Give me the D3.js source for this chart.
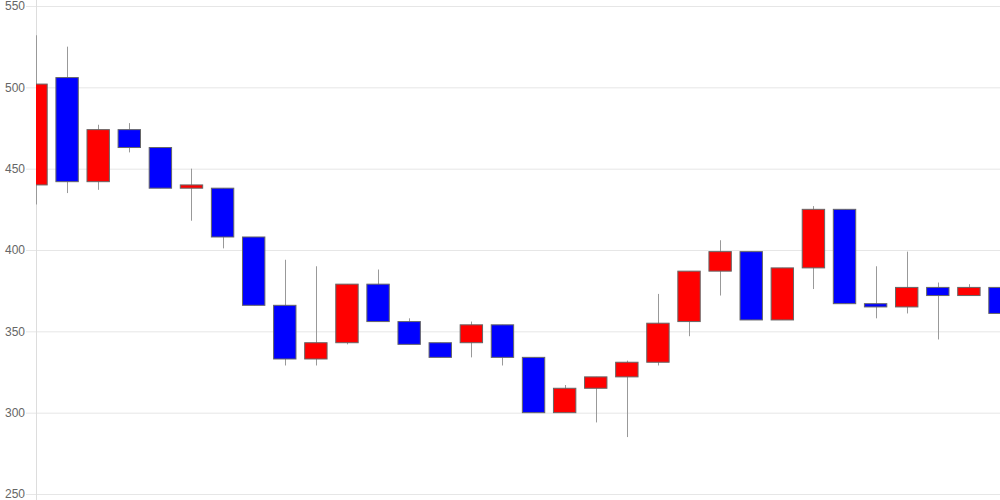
<!DOCTYPE html>
<html>
<head>
<meta charset="utf-8">
<script src="https://cdn.jsdelivr.net/npm/d3@7"></script>
<style>
html,body{margin:0;padding:0;background:#fff;}
svg{display:block;font-family:"Liberation Sans",Arial,sans-serif;}
</style>
</head>
<body>
<svg id="chart" width="1000" height="500"></svg>
<script>
const categories = d3.range(1, 33).map(String);
const openValues  = [440,506,442,474,463,438,438,408,366,333,343,379,356,343,343,354,334,300,315,322,331,356,387,399,357,389,425,367,365,377,372,377];
const highValues  = [532,525,477,478,463,450,438,408,394,390,379,388,358,343,356,354,334,317,322,332,373,387,406,399,389,427,425,390,399,380,379,377];
const lowValues   = [428,435,437,460,438,418,401,366,329,329,342,356,342,334,334,329,300,300,294,285,329,347,372,357,357,376,367,358,361,345,372,361];
const closeValues = [502,442,474,463,438,440,408,366,333,343,379,356,342,334,354,334,300,315,322,331,355,387,399,357,389,425,367,365,377,372,377,361];
const yTicks = [250,300,350,400,450,500,550];

const data = categories.map((c,i)=>({c, o:openValues[i], h:highValues[i], l:lowValues[i], cl:closeValues[i]}));

const svg = d3.select("#chart");
const mLeft = 36, mRight = 1000, mTop = 6, mBottom = 494;

const x = d3.scalePoint().domain(categories).range([mLeft, mRight]);
const y = d3.scaleLinear().domain([250, 550]).range([mBottom, mTop]);
const bw = x.step() * 0.72;

// grid + y axis
const yAxis = d3.axisLeft(y).tickValues(yTicks).tickSize(-(mRight - mLeft + 10)).tickPadding(2).tickFormat(d3.format("d"));
const gy = svg.append("g").attr("transform", `translate(${mLeft - 10},0)`).call(yAxis);
gy.select(".domain").remove();
gy.selectAll(".tick line").attr("stroke", "#e6e6e6").attr("stroke-width", 1);
gy.selectAll(".tick text").attr("fill", "#666").attr("font-size", 12).attr("x", -1);

svg.append("line").attr("x1", mLeft + 0.5).attr("x2", mLeft + 0.5).attr("y1", 0).attr("y2", 500).attr("stroke", "#ddd");

svg.append("clipPath").attr("id", "clip").append("rect")
  .attr("x", mLeft).attr("y", 0).attr("width", mRight - mLeft).attr("height", 500);

const g = svg.append("g").attr("clip-path", "url(#clip)");

g.selectAll("line.wick").data(data).join("line").attr("class", "wick")
  .attr("x1", d => Math.round(x(d.c)) + 0.5).attr("x2", d => Math.round(x(d.c)) + 0.5)
  .attr("y1", d => y(d.h)).attr("y2", d => y(d.l))
  .attr("stroke", "#999").attr("stroke-width", 1);

g.selectAll("rect.body").data(data).join("rect").attr("class", "body")
  .attr("x", d => x(d.c) - bw / 2)
  .attr("width", bw)
  .attr("y", d => y(Math.max(d.o, d.cl)))
  .attr("height", d => Math.max(1, Math.abs(y(d.o) - y(d.cl))))
  .attr("fill", d => d.cl >= d.o ? "#ff0000" : "#0000ff")
  .attr("stroke", "#666").attr("stroke-width", 1);
</script>
</body>
</html>
